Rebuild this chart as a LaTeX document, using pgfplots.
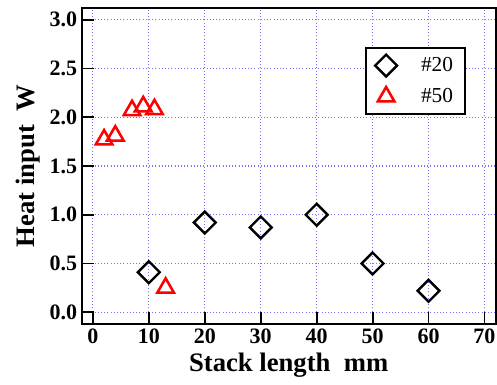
\documentclass[border=0pt]{standalone}
\usepackage{fontspec}
\setmainfont{Liberation Serif}
\usepackage{pgfplots}
\pgfplotsset{compat=1.18}
\definecolor{gridblue}{rgb}{0.45,0.45,1}
\begin{document}
\begin{tikzpicture}
\begin{axis}[
 at={(0,0)}, anchor=south west,
 width=310.5pt, height=237pt, scale only axis,
 xmin=-2, xmax=72, ymin=-0.12, ymax=3.12,
 xtick={0,10,...,70}, ytick={0,0.5,1,1.5,2,2.5,3},
 axis line style={line width=1.4pt},
 tick style={line width=1.4pt, black},
 tick align=inside, major tick length=9pt,
 xtick pos=bottom, ytick pos=left,
 grid=major, major grid style={gridblue, dotted, line width=0.8pt},
 ticklabel style={font=\fontsize{16.5}{18}\selectfont\bfseries},
 /pgf/number format/assume math mode=true,
 yticklabel style={/pgf/number format/fixed, /pgf/number format/fixed zerofill, /pgf/number format/precision=1},
 xlabel={Stack length\ \ mm}, ylabel={Heat input\ \ W},
 label style={font=\fontsize{20}{22}\selectfont\bfseries},
 legend style={at={(0.928,0.876)}, anchor=north east, draw=black, line width=1.2pt,
   font=\fontsize{16}{18}\selectfont, inner xsep=7pt, inner ysep=5pt, row sep=7pt,
   /tikz/every odd column/.append style={column sep=16pt}},
 legend cell align=left,
]
\addplot[only marks, mark=square, mark size=5.8pt, black, mark options={rotate=45, line width=1.8pt}]
 coordinates {(10,0.41) (20,0.92) (30,0.87) (40,1.00) (50,0.50) (60,0.22)};
\addlegendentry{\#20}
\addplot[only marks, mark=triangle, mark size=7.2pt, red, mark options={line width=1.9pt}]
 coordinates {(2,1.77) (4,1.81) (7,2.07) (9,2.11) (11,2.08) (13,0.25)};
\addlegendentry{\#50}
\end{axis}
\pgfresetboundingbox
\useasboundingbox (-61.3pt,-45.75pt) rectangle (311.5pt,243pt);
\end{tikzpicture}
\end{document}
